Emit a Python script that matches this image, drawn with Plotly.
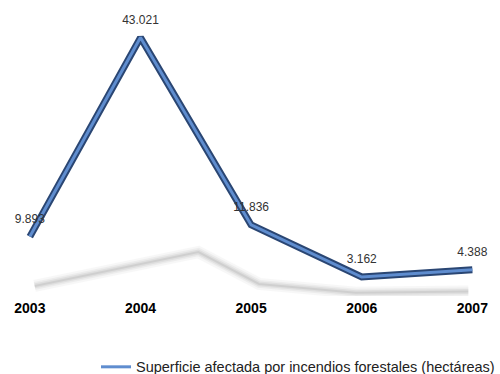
import plotly.graph_objects as go

# Superficie afectada por incendios forestales (hectáreas), 2003-2007
years = [2003, 2004, 2005, 2006, 2007]
hectareas = [9893, 43021, 11836, 3162, 4388]
year_labels = ["2003", "2004", "2005", "2006", "2007"]
series_name = "Superficie afectada por incendios forestales (hectáreas)"

FONT = "Liberation Sans, Arial, Helvetica, sans-serif"

# Floor shadow: the line flattened and sheared onto the ground plane
shadow_x = [y - 0.1 + v * 1.45e-5 for y, v in zip(years, hectareas)]
shadow_y = [v * 0.17 for v in hectareas]

fig = go.Figure()

# soft shadow built from stacked translucent strokes
for w, op in [(12, 0.04), (8, 0.06), (5, 0.08), (2, 0.10)]:
    fig.add_trace(go.Scatter(
        x=shadow_x, y=shadow_y, mode="lines",
        line=dict(color="rgb(80,80,80)", width=w),
        opacity=op, hoverinfo="skip", showlegend=False,
    ))

# ribbon: dark edge with a lighter face on top
fig.add_trace(go.Scatter(
    x=years, y=hectareas, mode="lines",
    line=dict(color="#2a4673", width=7),
    hoverinfo="skip", showlegend=False,
))
fig.add_trace(go.Scatter(
    x=years, y=hectareas, mode="lines", name=series_name,
    line=dict(color="#5f8dcf", width=3),
    showlegend=True,
))

# value labels
fig.add_trace(go.Scatter(
    x=years, y=hectareas, mode="markers+text",
    marker=dict(size=16, color="rgba(0,0,0,0)"),
    text=[f"{v:,}".replace(",", ".") for v in hectareas],
    textposition="top center",
    textfont=dict(family=FONT, size=12, color="#333333"),
    hoverinfo="skip", showlegend=False,
))

fig.update_layout(
    width=500, height=374,
    margin=dict(l=0, r=0, t=0, b=78),
    paper_bgcolor="white", plot_bgcolor="white",
    font=dict(family=FONT, color="#000000"),
    showlegend=True,
    legend=dict(
        orientation="h", xref="paper", yref="container",
        x=1.006, xanchor="right", y=0.019, yanchor="middle",
        font=dict(size=14.5, color="#222222"), bgcolor="rgba(0,0,0,0)",
        itemwidth=30,
    ),
    xaxis=dict(
        range=[2002.73, 2007.25],
        tickmode="array", tickvals=years, ticktext=year_labels,
        showgrid=False, zeroline=False, showline=False, ticks="",
        ticklabelstandoff=2,
        tickfont=dict(size=14, color="#000000", family=FONT, weight="bold"),
    ),
    yaxis=dict(
        range=[0, 49280], visible=False, showgrid=False, zeroline=False,
    ),
)

fig.write_html("out.html")
